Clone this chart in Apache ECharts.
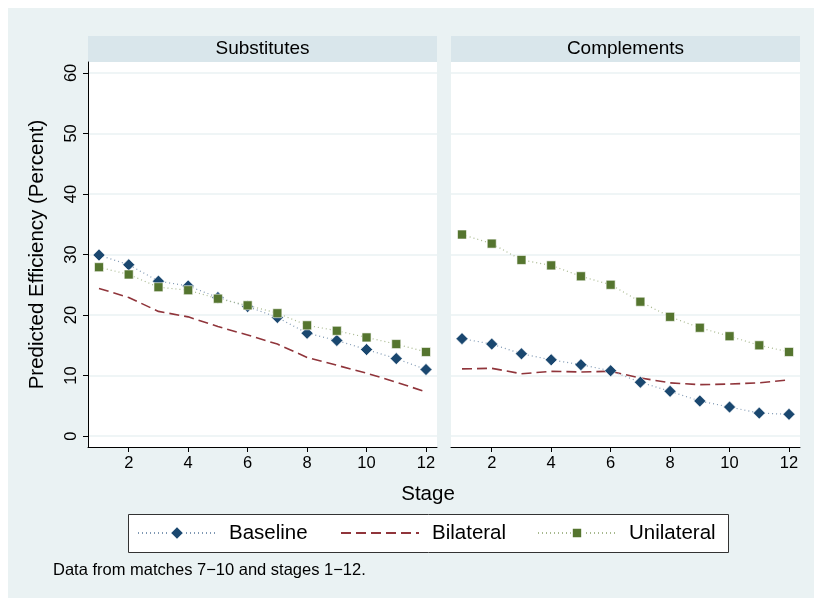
<!DOCTYPE html>
<html>
<head>
<meta charset="utf-8">
<script src="https://cdn.jsdelivr.net/npm/echarts@6/dist/echarts.min.js"></script>
<style>html,body{margin:0;padding:0;background:#fff}#c{width:814px;height:598px}</style>
</head>
<body>
<div id="c"></div>
<script>
const stages = [1,2,3,4,5,6,7,8,9,10,11,12];
const panelTitles = ['Substitutes', 'Complements'];
const seriesNames = ['Baseline', 'Bilateral', 'Unilateral'];
const xTicks = [2,4,6,8,10,12];
const yTicks = [0,10,20,30,40,50,60];

const subBaseline   = [29.9,28.3,25.6,24.8,22.9,21.4,19.6,17.0,15.8,14.3,12.8,11.0];
const subBilateral  = [24.4,22.9,20.6,19.7,18.1,16.7,15.2,13.0,11.7,10.4,8.9,7.3];
const subUnilateral = [27.9,26.7,24.6,24.1,22.7,21.6,20.3,18.3,17.4,16.3,15.2,13.9];

const comBaseline   = [16.1,15.2,13.6,12.6,11.8,10.8,8.9,7.4,5.8,4.8,3.8,3.6];
const comBilateral  = [11.1,11.2,10.3,10.7,10.6,10.7,9.6,8.8,8.5,8.6,8.8,9.3];
const comUnilateral = [33.3,31.8,29.1,28.2,26.4,25.0,22.2,19.7,17.9,16.5,15.0,13.9];

const FONT = '"Liberation Sans", Arial, Helvetica, sans-serif';
const pair = arr => stages.map((s,i)=>[s, arr[i]]);

const styles = {
  Baseline:  {color:'#1a476f', line:{color:'#7f98b3', width:1.2, type:[1,3]}, symbol:'diamond', size:12},
  Bilateral: {color:'#90353b', line:{color:'#90353b', width:1.6, type:[10,5]}, symbol:'none', size:0},
  Unilateral:{color:'#55752f', line:{color:'#a7b88e', width:1.2, type:[1,3]}, symbol:'rect', size:9}
};

function mk(name, data, idx){
  const st = styles[name];
  return {
    name, type:'line', xAxisIndex:idx, yAxisIndex:idx,
    data: pair(data),
    symbol: st.symbol, symbolSize: st.size, showSymbol: st.symbol !== 'none',
    itemStyle:{color:st.color, borderColor:'#ffffff', borderWidth:0.6, opacity:1},
    lineStyle: st.line,
    emphasis:{disabled:true}, animation:false, z: name==='Bilateral'?2:3
  };
}

const chart = echarts.init(document.getElementById('c'), null, {renderer:'canvas'});

const grids = [
  {left:88, top:62, width:349, height:385},
  {left:451, top:62, width:349, height:385}
].map(g => Object.assign(g, {show:true, backgroundColor:'#ffffff', borderWidth:0, containLabel:false}));

const xAxes = [0,1].map(i => ({
  type:'value', gridIndex:i, min:0.63, max:12.37,
  axisLine:{show:true, onZero:false, lineStyle:{color:'#000', width:1}},
  axisTick:{show:true, length:5, customValues:xTicks, lineStyle:{color:'#000'}},
  axisLabel:{customValues:xTicks, color:'#000', fontSize:16.5, fontFamily:FONT, margin:8},
  splitLine:{show:false}
}));

const yAxes = [0,1].map(i => ({
  type:'value', gridIndex:i, min:-1.8, max:61.8,
  axisLine:{show:i===0, onZero:false, lineStyle:{color:'#000', width:1}},
  axisTick:{show:i===0, length:5, customValues:yTicks, lineStyle:{color:'#000'}},
  axisLabel:{show:i===0, customValues:yTicks, rotate:90, color:'#000', fontSize:16.5, fontFamily:FONT, margin:8},
  splitLine:{show:true, lineStyle:{color:'#eaf2f3', width:1.5}},
  name: i===0 ? 'Predicted Efficiency (Percent)' : '',
  nameLocation:'middle', nameRotate:90, nameGap:40,
  nameTextStyle:{color:'#000', fontSize:20.5, fontFamily:FONT}
}));

const series = [
  mk('Baseline', subBaseline, 0), mk('Bilateral', subBilateral, 0), mk('Unilateral', subUnilateral, 0),
  mk('Baseline', comBaseline, 1), mk('Bilateral', comBilateral, 1), mk('Unilateral', comUnilateral, 1)
];

const legendLefts = [137, 340, 537];
const legendHeights = [18, 12, 13];
const legends = seriesNames.map((n,i) => ({
  data: n === 'Bilateral' ? [{name:n, itemStyle:{opacity:0}}] : [n],
  left:legendLefts[i], top:522.5, padding:0,
  itemWidth:78, itemHeight:legendHeights[i], itemGap:0,
  selectedMode:false,
  textStyle:{color:'#000', fontSize:20.5, fontFamily:FONT, padding:[0,0,0,8]}
}));

const graphic = [
  {type:'rect', shape:{x:8, y:8, width:806, height:590}, style:{fill:'#eaf2f3'}, z:-10, silent:true},
  {type:'rect', shape:{x:88, y:36, width:349, height:26}, style:{fill:'#d9e6eb'}, z:-5, silent:true},
  {type:'rect', shape:{x:451, y:36, width:349, height:26}, style:{fill:'#d9e6eb'}, z:-5, silent:true},
  {type:'text', x:262.5, y:49, style:{text:panelTitles[0], fill:'#000', font:'19px '+FONT, textAlign:'center', textVerticalAlign:'middle'}, z:5},
  {type:'text', x:625.5, y:49, style:{text:panelTitles[1], fill:'#000', font:'19px '+FONT, textAlign:'center', textVerticalAlign:'middle'}, z:5},
  {type:'text', x:428, y:494, style:{text:'Stage', fill:'#000', font:'20.5px '+FONT, textAlign:'center', textVerticalAlign:'middle'}, z:5},
  {type:'rect', shape:{x:128.5, y:514.5, width:600, height:38}, style:{fill:'#ffffff', stroke:'#333', lineWidth:1}, z:-4, silent:true},
  {type:'text', x:53, y:570, style:{text:'Data from matches 7\u221210 and stages 1\u221212.', fill:'#000', font:'16.5px '+FONT, textAlign:'left', textVerticalAlign:'middle'}, z:5}
];

chart.setOption({
  animation:false,
  backgroundColor:'#ffffff',
  grid: grids, xAxis: xAxes, yAxis: yAxes,
  legend: legends, series, graphic
});
</script>
</body>
</html>
